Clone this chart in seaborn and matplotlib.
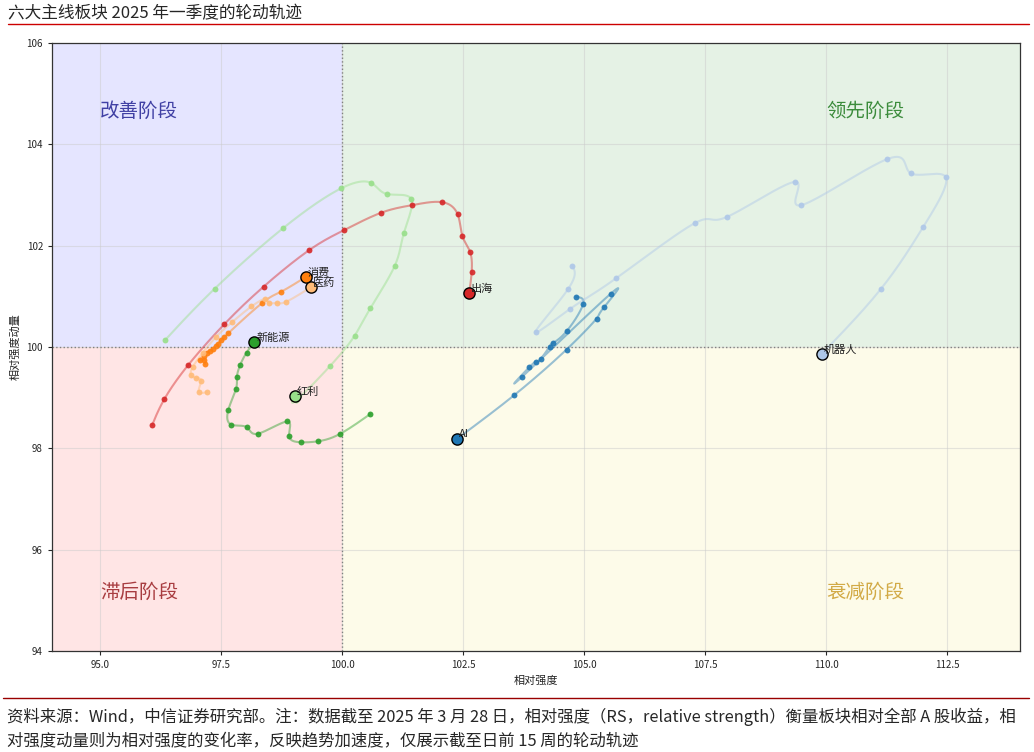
import numpy as np
import pandas as pd
import matplotlib
matplotlib.use('Agg')
import matplotlib.pyplot as plt
import seaborn as sns

# 板块名称（颜色按 tab20 顺序）
sectors = ['AI', '机器人', '消费', '医药', '新能源', '红利', '出海']

# 相对强度 (x) / 相对强度动量 (y)，近15周
ai_x = [104.83, 104.97, 104.63, 104.35, 104.28, 104.10, 104.00, 103.86, 103.71, 105.54, 105.40, 105.25, 104.63, 103.55, 102.37]
ai_y = [100.99, 100.84, 100.31, 100.08, 100.01, 99.77, 99.70, 99.60, 99.41, 101.05, 100.78, 100.56, 99.95, 99.05, 98.19]

robot_x = [104.75, 104.66, 103.99, 104.70, 105.66, 107.29, 107.95, 109.36, 109.48, 111.26, 111.74, 112.46, 112.00, 111.12, 109.90]
robot_y = [101.60, 101.14, 100.30, 100.75, 101.36, 102.45, 102.57, 103.26, 102.80, 103.71, 103.43, 103.36, 102.37, 101.14, 99.86]

consume_x = [97.16, 97.15, 97.05, 97.13, 97.20, 97.26, 97.32, 97.38, 97.43, 97.49, 97.56, 97.64, 98.33, 98.73, 99.24]
consume_y = [99.66, 99.74, 99.74, 99.82, 99.89, 99.92, 99.97, 100.02, 100.06, 100.14, 100.19, 100.27, 100.86, 101.09, 101.38]

pharma_x = [97.20, 97.03, 97.08, 96.98, 96.87, 96.91, 97.11, 97.39, 97.72, 98.12, 98.41, 98.48, 98.64, 98.83, 99.35]
pharma_y = [99.11, 99.12, 99.33, 99.39, 99.45, 99.61, 99.88, 100.20, 100.49, 100.80, 100.95, 100.87, 100.87, 100.89, 101.18]

newenergy_x = [100.58, 99.94, 99.50, 99.15, 98.90, 98.86, 98.26, 98.02, 97.70, 97.64, 97.80, 97.82, 97.89, 98.02, 98.18]
newenergy_y = [98.68, 98.28, 98.14, 98.12, 98.24, 98.53, 98.29, 98.42, 98.47, 98.75, 99.17, 99.41, 99.65, 99.89, 100.09]

dividend_x = [96.34, 97.36, 98.78, 99.97, 100.59, 100.92, 101.42, 101.27, 101.08, 100.58, 100.25, 99.75, 99.05, 99.01]
dividend_y = [100.14, 101.15, 102.35, 103.13, 103.24, 103.02, 102.92, 102.25, 101.60, 100.77, 100.22, 99.63, 98.95, 99.03]

overseas_x = [96.07, 96.32, 96.81, 97.56, 98.37, 99.31, 100.04, 100.80, 101.44, 102.05, 102.38, 102.48, 102.64, 102.67, 102.62]
overseas_y = [98.46, 98.97, 99.64, 100.45, 101.19, 101.91, 102.31, 102.65, 102.80, 102.86, 102.62, 102.19, 101.87, 101.48, 101.07]

xs = [ai_x, robot_x, consume_x, pharma_x, newenergy_x, dividend_x, overseas_x]
ys = [ai_y, robot_y, consume_y, pharma_y, newenergy_y, dividend_y, overseas_y]

quad_labels = ['改善阶段', '领先阶段', '滞后阶段', '衰减阶段']

title = '六大主线板块 2025 年一季度的轮动轨迹'
note1 = '资料来源：Wind，中信证券研究部。注：数据截至 2025 年 3 月 28 日，相对强度（RS，relative strength）衡量板块相对全部 A 股收益，相'
note2 = '对强度动量则为相对强度的变化率，反映趋势加速度，仅展示截至日前 15 周的轮动轨迹'


def smooth(v, n=300):
    # 自然三次样条，参数为周序号
    v = np.asarray(v, float)
    t = np.arange(len(v), dtype=float)
    m = len(v)
    h = np.diff(t)
    A = np.zeros((m, m))
    r = np.zeros(m)
    A[0, 0] = 1
    A[-1, -1] = 1
    for i in range(1, m - 1):
        A[i, i - 1] = h[i - 1]
        A[i, i] = 2 * (h[i - 1] + h[i])
        A[i, i + 1] = h[i]
        r[i] = 3 * ((v[i + 1] - v[i]) / h[i] - (v[i] - v[i - 1]) / h[i - 1])
    c = np.linalg.solve(A, r)
    b = (v[1:] - v[:-1]) / h - h * (2 * c[:-1] + c[1:]) / 3
    d = (c[1:] - c[:-1]) / (3 * h)
    tt = np.linspace(0, t[-1], n)
    idx = np.clip(np.searchsorted(t, tt) - 1, 0, m - 2)
    dx = tt - t[idx]
    return v[idx] + b[idx] * dx + c[idx] * dx ** 2 + d[idx] * dx ** 3


sns.set_style('white')
plt.rcParams['font.family'] = ['Noto Sans CJK SC', 'DejaVu Sans']
plt.rcParams['axes.unicode_minus'] = False

fig = plt.figure(figsize=(10.34, 7.52), dpi=100)
ax = fig.add_axes([0.0503, 0.1343, 0.9362, 0.8085])

xmin, xmax, ymin, ymax = 94, 114, 94, 106
ax.fill_between([xmin, 100], 100, ymax, color='blue', alpha=0.1, lw=0, zorder=0)
ax.fill_between([100, xmax], 100, ymax, color='green', alpha=0.1, lw=0, zorder=0)
ax.fill_between([xmin, 100], ymin, 100, color='red', alpha=0.1, lw=0, zorder=0)
ax.fill_between([100, xmax], ymin, 100, color='#f5e050', alpha=0.12, lw=0, zorder=0)
ax.axvline(100, color='gray', ls=':', lw=1, zorder=1)
ax.axhline(100, color='gray', ls=':', lw=1, zorder=1)

colors = sns.color_palette('tab20', len(sectors))
for name, x, y, col in zip(sectors, xs, ys, colors):
    ax.plot(smooth(x), smooth(y), color=col, alpha=0.45, lw=1.5, zorder=2)
    df = pd.DataFrame({'x': x[:-1], 'y': y[:-1]})
    sns.scatterplot(data=df, x='x', y='y', color=col, s=18, linewidth=0, alpha=0.9, ax=ax, zorder=3)
    ax.scatter(x[-1], y[-1], s=65, color=col, edgecolor='black', linewidth=1, zorder=4)
    ax.annotate(name, (x[-1], y[-1]), xytext=(1.5, -0.5), textcoords='offset points',
                ha='left', va='bottom', fontsize=8, color='#222222', zorder=5)

ax.text(95.8, 104.65, quad_labels[0], fontsize=14, color='#4040a4', ha='center', va='center')
ax.text(110.8, 104.65, quad_labels[1], fontsize=14, color='#3c8c3c', ha='center', va='center')
ax.text(95.8, 95.15, quad_labels[2], fontsize=14, color='#a83c40', ha='center', va='center')
ax.text(110.8, 95.15, quad_labels[3], fontsize=14, color='#d2aa46', ha='center', va='center')

ax.set_xlim(xmin, xmax)
ax.set_ylim(ymin, ymax)
ax.set_xticks(np.arange(95, 113, 2.5))
ax.set_xticklabels([f'{v:.1f}' for v in np.arange(95, 113, 2.5)])
ax.set_yticks(np.arange(94, 107, 2))
ax.tick_params(labelsize=7, length=3, bottom=True, left=True)
ax.grid(True, color='#cccccc', alpha=0.5, lw=0.8)
ax.set_axisbelow(True)
ax.set_xlabel('相对强度', fontsize=8)
ax.set_ylabel('相对强度动量', fontsize=8)
for s in ax.spines.values():
    s.set_color('#333333')
    s.set_linewidth(0.9)

fig.text(0.008, 0.993, title, fontsize=12, ha='left', va='top')
fig.add_artist(plt.Line2D([0.008, 0.995], [0.968, 0.968], color='#cc0000', lw=1))
fig.add_artist(plt.Line2D([0.003, 0.995], [0.072, 0.072], color='#990000', lw=1))
fig.text(0.007, 0.047, note1, fontsize=11.8, ha='left', va='center')
fig.text(0.007, 0.015, note2, fontsize=11.8, ha='left', va='center')

fig.savefig('out.png', dpi=100)
